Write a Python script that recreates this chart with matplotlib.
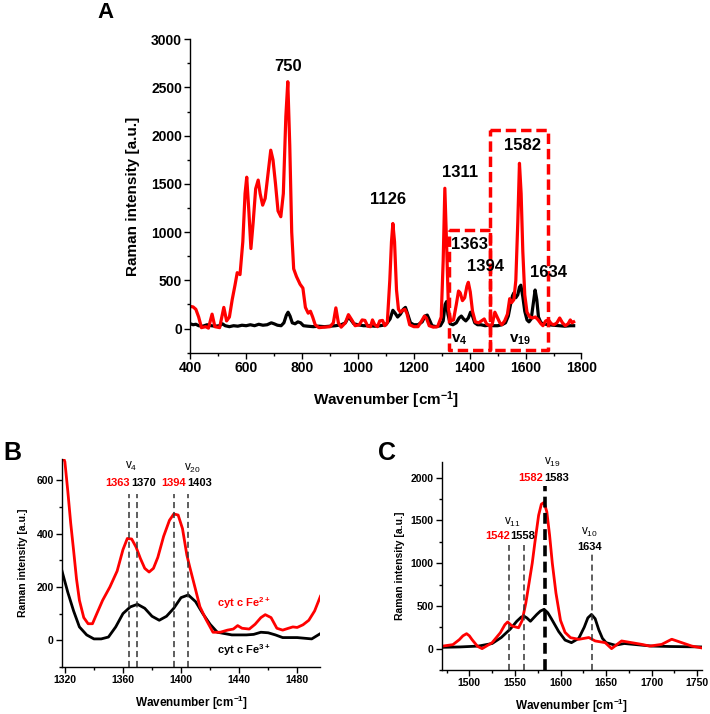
import numpy as np
import matplotlib
matplotlib.use("Agg")
import matplotlib.pyplot as plt
from matplotlib.ticker import MultipleLocator

plt.rcParams["font.family"] = ["Liberation Sans", "DejaVu Sans"]
plt.rcParams["mathtext.fontset"] = "custom"
plt.rcParams["mathtext.rm"] = "Liberation Sans"
plt.rcParams["mathtext.bf"] = "Liberation Sans:bold"
plt.rcParams["mathtext.default"] = "regular"

# ---- Panel A: espectros completos ----
wn_a_red = [400, 410, 420, 430, 440, 455, 465, 478, 488, 505, 520, 530, 540, 550, 560, 568,
            578, 588, 596, 602, 610, 617, 625, 634, 643, 650, 659, 668, 678, 688, 696, 705,
            714, 724, 733, 742, 749, 756, 763, 770, 780, 793, 803, 812, 822, 830, 838, 847,
            860, 880, 900, 912, 921, 930, 940, 955, 966, 978, 990, 1005, 1015, 1025, 1035,
            1045, 1052, 1060, 1070, 1078, 1088, 1096, 1105, 1114, 1120, 1125, 1131, 1138,
            1145, 1152, 1160, 1168, 1175, 1185, 1200, 1215, 1228, 1238, 1245, 1255, 1270,
            1285, 1298, 1305, 1311, 1318, 1324, 1332, 1342, 1352, 1360, 1366, 1374, 1382,
            1390, 1395, 1402, 1410, 1420, 1432, 1442, 1452, 1460, 1470, 1480, 1490, 1498,
            1508, 1515, 1525, 1535, 1543, 1550, 1558, 1565, 1572, 1578, 1584, 1590, 1597,
            1605, 1615, 1625, 1635, 1645, 1655, 1662, 1672, 1682, 1692, 1702, 1712, 1722,
            1732, 1742, 1752, 1760, 1766, 1772]
int_a_red = [230, 225, 200, 120, 10, 20, 5, 150, 20, 10, 220, 80, 120, 300, 450, 580,
             560, 900, 1400, 1570, 1200, 830, 1100, 1450, 1540, 1400, 1280, 1350, 1600, 1850, 1750, 1500,
             1220, 1160, 1400, 2200, 2560, 1900, 1000, 620, 540, 460, 420, 220, 160, 180, 120, 40,
             10, 15, 20, 60, 215, 60, 15, 60, 145, 90, 30, 40, 90, 85, 25,
             20, 90, 40, 20, 80, 85, 30, 60, 500, 900, 1090, 900, 400,
             200, 170, 190, 200, 160, 40, 20, 20, 80, 130, 110, 30, 15,
             20, 120, 700, 1455, 800, 200, 80, 90, 250, 390, 370, 290, 320,
             440, 480, 380, 180, 70, 60, 80, 100, 50, 30, 40, 170, 120,
             60, 40, 80, 150, 310, 270, 300, 500, 1100, 1714, 1400, 800, 350,
             170, 120, 110, 120, 90, 50, 30, 80, 90, 50, 40, 60, 110,
             60, 30, 50, 90, 60, 70]

wn_a_blk = [400, 410, 420, 430, 445, 460, 475, 490, 505, 515, 525, 540, 555, 570, 585, 600,
            615, 630, 645, 660, 675, 690, 700, 712, 725, 735, 744, 750, 757, 765, 775, 785,
            795, 805, 820, 840, 860, 880, 900, 920, 940, 955, 966, 975, 985, 1000, 1020, 1040,
            1060, 1080, 1100, 1115, 1125, 1133, 1142, 1152, 1162, 1170, 1178, 1188, 1200,
            1215, 1230, 1240, 1248, 1256, 1265, 1280, 1295, 1305, 1312, 1317, 1322, 1330,
            1340, 1352, 1362, 1370, 1378, 1386, 1395, 1403, 1410, 1418, 1428, 1440, 1455,
            1470, 1485, 1500, 1515, 1528, 1538, 1546, 1553, 1558, 1565, 1572, 1578, 1583,
            1590, 1597, 1605, 1612, 1620, 1627, 1634, 1640, 1646, 1655, 1665, 1680, 1700,
            1720, 1740, 1760, 1772]
int_a_blk = [50, 40, 45, 30, 25, 40, 30, 25, 30, 50, 30, 20, 30, 25, 35, 30,
             40, 30, 45, 35, 40, 60, 50, 35, 30, 60, 140, 170, 130, 60, 50, 70,
             60, 30, 25, 20, 25, 20, 25, 30, 40, 60, 120, 90, 50, 40, 30, 30,
             25, 30, 40, 100, 190, 160, 120, 150, 200, 220, 150, 60, 40,
             40, 70, 130, 140, 90, 30, 20, 30, 80, 250, 280, 150, 50,
             40, 60, 110, 130, 100, 80, 110, 170, 130, 60, 40, 40, 30,
             35, 30, 30, 40, 60, 130, 250, 340, 370, 320, 350, 430, 450,
             330, 180, 90, 70, 100, 250, 400, 300, 120, 60, 50, 40, 35,
             30, 25, 30, 30]

labels_a = ["750", "1126", "1311", "1363", "1394", "1582", "1634"]
labels_a_x = [751, 1109, 1365, 1400, 1457, 1589, 1683]
labels_a_y = [2714, 1334, 1621, 876, 645, 1896, 586]

# ---- Panel B: region v4 / v20 ----
wn_b_red = [1318, 1320, 1322, 1324, 1326, 1328, 1330, 1333, 1336, 1339, 1342, 1346, 1351,
            1356, 1360, 1363, 1366, 1369, 1372, 1375, 1378, 1381, 1384, 1388, 1392, 1395,
            1398, 1401, 1404, 1406, 1410, 1413, 1417, 1422, 1427, 1432, 1436, 1439, 1442,
            1447, 1451, 1455, 1458, 1462, 1466, 1470, 1474, 1477, 1480, 1484, 1488, 1492, 1496]
int_b_red = [700, 670, 560, 440, 337, 230, 150, 85, 62, 62, 100, 150, 200,
             260, 340, 382, 380, 350, 307, 270, 256, 270, 311, 390, 450, 474,
             470, 419, 320, 275, 190, 126, 80, 30, 30, 38, 42, 55, 45,
             42, 60, 85, 96, 85, 45, 38, 45, 50, 48, 58, 75, 110, 165]
wn_b_blk = [1318, 1322, 1326, 1330, 1335, 1340, 1345, 1350, 1355, 1360, 1365, 1370, 1375,
            1380, 1385, 1390, 1395, 1400, 1405, 1410, 1415, 1420, 1425, 1435, 1445, 1450,
            1455, 1460, 1465, 1470, 1480, 1490, 1496]
int_b_blk = [260, 180, 110, 50, 20, 5, 5, 12, 50, 100, 125, 135, 120,
             90, 75, 90, 120, 160, 170, 145, 100, 60, 30, 20, 20, 22,
             30, 28, 20, 10, 10, 5, 25]
lines_b = [1364, 1370, 1395, 1405]

# ---- Panel C: region v11 / v19 / v10 ----
wn_c_red = [1469, 1482, 1489, 1493, 1497, 1500, 1503, 1509, 1514, 1525, 1534, 1539, 1542,
            1547, 1554, 1558, 1562, 1566, 1569, 1572, 1576, 1579, 1582, 1585, 1588, 1591,
            1595, 1600, 1605, 1611, 1620, 1631, 1638, 1649, 1656, 1667, 1678, 1689, 1698,
            1711, 1722, 1733, 1744, 1754]
int_c_red = [27, 47, 105, 150, 175, 150, 105, 27, 0, 70, 186, 280, 312,
             264, 244, 330, 535, 800, 1000, 1250, 1560, 1690, 1710, 1600, 1330, 1000,
             650, 330, 190, 128, 109, 130, 90, 70, 0, 90, 70, 50, 30,
             50, 110, 70, 30, 10]
wn_c_blk = [1469, 1490, 1510, 1525, 1535, 1545, 1552, 1557, 1560, 1563, 1567, 1574, 1578,
            1582, 1586, 1590, 1598, 1605, 1612, 1620, 1626, 1630, 1634, 1638, 1642, 1646,
            1650, 1660, 1670, 1680, 1700, 1720, 1754]
int_c_blk = [15, 20, 30, 60, 130, 230, 320, 370, 380, 360, 320, 400, 440,
             460, 420, 350, 200, 100, 70, 120, 250, 360, 400, 350, 220, 120,
             70, 40, 60, 50, 30, 25, 20]
lines_c = [1544, 1560, 1634]
lines_c_top = [1209, 1209, 1116]

RED = "#ff0000"

fig = plt.figure(figsize=(7.10, 7.14), dpi=100)
axA = fig.add_axes([0.268, 0.506, 0.551, 0.439])
axB = fig.add_axes([0.0873, 0.066, 0.364, 0.291])
axC = fig.add_axes([0.6225, 0.0616, 0.366, 0.291])


def estilo(ax, fs, lw=1.0):
    for s in ["top", "right"]:
        ax.spines[s].set_visible(False)
    for s in ["left", "bottom"]:
        ax.spines[s].set_linewidth(lw)
    ax.tick_params(which="major", direction="out", length=4, width=lw, labelsize=fs, pad=2)
    ax.tick_params(which="minor", direction="out", length=2.5, width=lw)
    for t in ax.get_xticklabels() + ax.get_yticklabels():
        t.set_fontweight("bold")


# Panel A
axA.plot(wn_a_blk, int_a_blk, color="black", lw=2.3)
axA.plot(wn_a_red, int_a_red, color=RED, lw=2.3)
axA.set_xlim(400, 1800)
axA.set_ylim(-250, 3000)
axA.xaxis.set_major_locator(MultipleLocator(200))
axA.xaxis.set_minor_locator(MultipleLocator(100))
axA.yaxis.set_major_locator(MultipleLocator(500))
axA.yaxis.set_minor_locator(MultipleLocator(250))
estilo(axA, 10)
axA.set_xlabel("Wavenumber [cm$^{-1}$]", fontsize=11, fontweight="bold", labelpad=10)
axA.set_ylabel("Raman intensity [a.u.]", fontsize=11, fontweight="bold", labelpad=8)
for t, x, y in zip(labels_a, labels_a_x, labels_a_y):
    axA.text(x, y, t, fontsize=12, fontweight="bold", ha="center", va="center")
axA.text(1363, -114, "v$_4$", fontsize=11, fontweight="bold", ha="center", va="center")
axA.text(1581, -114, "v$_{19}$", fontsize=11, fontweight="bold", ha="center", va="center")
# cajas punteadas
box_kw = dict(color=RED, lw=2.5, dashes=(3, 1.4))
axA.plot([1325, 1473, 1473, 1325, 1325], [1024, 1024, -217, -217, 1024], **box_kw)
axA.plot([1473, 1680, 1680, 1473, 1473], [2058, 2058, -217, -217, 2058], **box_kw)
fig.text(0.148, 0.983, "A", fontsize=16, fontweight="bold", ha="center", va="center")

# Panel B
axB.plot(wn_b_blk, int_b_blk, color="black", lw=2.0)
axB.plot(wn_b_red, int_b_red, color=RED, lw=2.0)
for x in lines_b:
    axB.plot([x, x], [-100, 548], color="#333333", lw=1.1, dashes=(4, 2.5))
axB.set_xlim(1318, 1496)
axB.set_ylim(-100, 680)
axB.xaxis.set_major_locator(MultipleLocator(40))
axB.xaxis.set_minor_locator(MultipleLocator(20))
axB.yaxis.set_major_locator(MultipleLocator(200))
axB.yaxis.set_minor_locator(MultipleLocator(100))
estilo(axB, 7.5)
axB.set_xlabel("Wavenumber [cm$^{-1}$]", fontsize=8.5, fontweight="bold", labelpad=6)
axB.set_ylabel("Raman intensity [a.u.]", fontsize=7.5, fontweight="bold", labelpad=6)
kwB = dict(fontsize=8, fontweight="bold", ha="center", va="center")
axB.text(1366, 652, "v$_4$", fontsize=8.5, ha="center", va="center")
axB.text(1408, 645, "v$_{20}$", fontsize=8.5, ha="center", va="center")
axB.text(1356, 590, "1363", color=RED, **kwB)
axB.text(1374, 590, "1370", color="black", **kwB)
axB.text(1395, 590, "1394", color=RED, **kwB)
axB.text(1413, 590, "1403", color="black", **kwB)
axB.text(1425, 141, "cyt c Fe$^{2+}$", color=RED, fontsize=8, fontweight="bold", va="center")
axB.text(1425, -37, "cyt c Fe$^{3+}$", color="black", fontsize=8, fontweight="bold", va="center")
fig.text(0.017, 0.366, "B", fontsize=18, fontweight="bold", ha="center", va="center")

# Panel C
axC.plot(wn_c_blk, int_c_blk, color="black", lw=2.0)
axC.plot(wn_c_red, int_c_red, color=RED, lw=2.0)
for x, top in zip(lines_c, lines_c_top):
    axC.plot([x, x], [-250, top], color="#333333", lw=1.1, dashes=(4, 2.5))
axC.plot([1583, 1583], [-250, 1907], color="black", lw=2.6, dashes=(3, 1.5))
axC.set_xlim(1470, 1755)
axC.set_ylim(-250, 2180)
axC.xaxis.set_major_locator(MultipleLocator(50))
axC.xaxis.set_minor_locator(MultipleLocator(25))
axC.yaxis.set_major_locator(MultipleLocator(500))
axC.yaxis.set_minor_locator(MultipleLocator(250))
estilo(axC, 7.5)
axC.set_xlabel("Wavenumber [cm$^{-1}$]", fontsize=8.5, fontweight="bold", labelpad=6)
axC.set_ylabel("Raman intensity [a.u.]", fontsize=7.5, fontweight="bold", labelpad=4)
kwC = dict(fontsize=8, fontweight="bold", ha="center", va="center")
axC.text(1591, 2174, "v$_{19}$", fontsize=8.5, ha="center", va="center")
axC.text(1567, 2000, "1582", color=RED, **kwC)
axC.text(1596, 2000, "1583", color="black", **kwC)
axC.text(1547, 1477, "v$_{11}$", fontsize=8.5, ha="center", va="center")
axC.text(1531, 1314, "1542", color=RED, **kwC)
axC.text(1558, 1314, "1558", color="black", **kwC)
axC.text(1632, 1360, "v$_{10}$", fontsize=8.5, ha="center", va="center")
axC.text(1632, 1186, "1634", color="black", **kwC)
fig.text(0.545, 0.366, "C", fontsize=18, fontweight="bold", ha="center", va="center")

fig.savefig("out.png", dpi=100)
